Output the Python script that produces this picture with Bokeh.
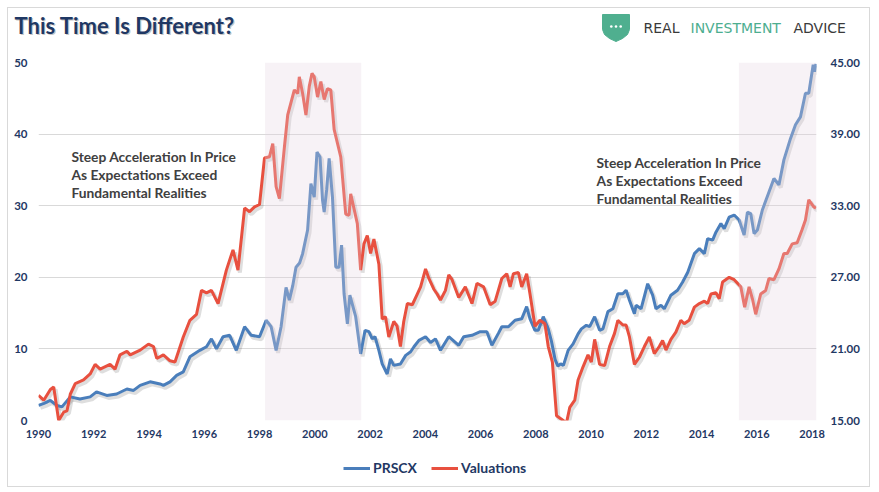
from bokeh.plotting import figure
from bokeh.layouts import column
from bokeh.models import (Range1d, LinearAxis, FixedTicker, Label, BoxAnnotation,
                          Legend, LegendItem, NumeralTickFormatter, ColumnDataSource)
from bokeh.core.properties import value
from bokeh.transform import dodge
from bokeh.embed import file_html
from bokeh.resources import INLINE

# ---------------- data ----------------
prscx_years = [1990.0, 1990.2, 1990.43, 1990.67, 1990.85, 1991.15, 1991.5, 1991.87, 1992.1, 1992.47,
               1992.83, 1993.2, 1993.44, 1993.68, 1994.04, 1994.4, 1994.52, 1994.76, 1995.0, 1995.24,
               1995.48, 1995.84, 1996.08, 1996.26, 1996.44, 1996.68, 1996.92, 1997.16, 1997.46, 1997.7,
               1998.0, 1998.24, 1998.42, 1998.6, 1998.78, 1998.96, 1999.08, 1999.2, 1999.32, 1999.45,
               1999.56, 1999.74, 1999.86, 1999.98, 2000.08, 2000.19, 2000.28, 2000.34, 2000.43, 2000.52,
               2000.64, 2000.76, 2000.88, 2000.97, 2001.06, 2001.18, 2001.27, 2001.48, 2001.66, 2001.82,
               2001.96, 2002.08, 2002.18, 2002.32, 2002.44, 2002.62, 2002.74, 2002.86, 2003.1, 2003.29,
               2003.47, 2003.59, 2003.77, 2004.01, 2004.19, 2004.37, 2004.55, 2004.85, 2005.21, 2005.39,
               2005.69, 2005.99, 2006.23, 2006.41, 2006.65, 2006.77, 2007.01, 2007.25, 2007.49, 2007.67,
               2007.79, 2007.97, 2008.09, 2008.27, 2008.45, 2008.57, 2008.7, 2008.8, 2008.9, 2009.0,
               2009.17, 2009.35, 2009.53, 2009.65, 2009.83, 2009.95, 2010.13, 2010.31, 2010.43, 2010.61,
               2010.79, 2010.97, 2011.15, 2011.27, 2011.39, 2011.57, 2011.63, 2011.81, 2012.05, 2012.23,
               2012.35, 2012.53, 2012.65, 2012.89, 2013.13, 2013.31, 2013.5, 2013.74, 2013.92, 2014.1,
               2014.22, 2014.4, 2014.52, 2014.7, 2014.82, 2015.0, 2015.18, 2015.36, 2015.54, 2015.66,
               2015.78, 2015.9, 2016.02, 2016.2, 2016.44, 2016.62, 2016.8, 2016.98, 2017.22, 2017.4,
               2017.58, 2017.76, 2017.88, 2018.04, 2018.09, 2018.14]
prscx = [2.1, 2.4, 2.8, 2.1, 1.9, 3.3, 3.0, 3.3, 4.0, 3.5,
         3.7, 4.4, 4.2, 4.9, 5.4, 5.1, 4.9, 5.4, 6.3, 6.8,
         8.9, 9.8, 10.3, 11.4, 10.0, 11.7, 11.9, 9.8, 13.1, 11.9,
         11.7, 14.0, 13.1, 9.8, 13.1, 18.6, 16.8, 18.8, 21.4, 22.0,
         23.3, 26.6, 33.1, 31.2, 37.5, 36.8, 30.8, 29.1, 32.2, 36.6,
         31.2, 21.4, 21.4, 24.5, 17.7, 13.5, 17.5, 14.5, 9.3, 12.6,
         12.4, 11.4, 11.7, 9.8, 7.9, 6.5, 8.6, 7.7, 7.9, 9.1,
         9.6, 10.3, 11.2, 11.7, 10.9, 11.4, 9.8, 11.7, 10.5, 11.7,
         11.9, 12.4, 12.4, 10.5, 12.2, 13.1, 13.1, 14.0, 14.2, 15.9,
         14.2, 12.6, 12.6, 14.5, 12.8, 11.0, 8.5, 7.6, 7.9, 7.7,
         9.8, 10.7, 12.1, 12.8, 13.3, 13.1, 14.5, 12.6, 12.8, 15.2,
         15.6, 17.7, 17.7, 18.2, 16.8, 14.9, 16.1, 15.6, 19.1, 17.5,
         15.6, 16.1, 15.6, 17.5, 18.2, 19.3, 20.7, 23.3, 24.0, 23.3,
         25.4, 25.2, 26.3, 27.5, 26.8, 28.4, 28.7, 28.0, 25.9, 29.1,
         28.9, 26.1, 26.6, 29.4, 31.9, 33.8, 32.9, 36.4, 39.4, 41.3,
         42.4, 45.7, 45.7, 49.7, 48.7, 49.8]

val_years = [1990.0, 1990.19, 1990.43, 1990.55, 1990.73, 1990.91, 1991.03, 1991.15, 1991.33, 1991.63,
             1991.87, 1992.05, 1992.23, 1992.59, 1992.77, 1992.95, 1993.2, 1993.32, 1993.68, 1993.98,
             1994.16, 1994.28, 1994.52, 1994.76, 1994.94, 1995.24, 1995.48, 1995.72, 1995.9, 1996.08,
             1996.26, 1996.5, 1996.8, 1997.04, 1997.22, 1997.46, 1997.64, 1997.82, 1998.0, 1998.18,
             1998.36, 1998.48, 1998.6, 1998.72, 1998.9, 1999.02, 1999.26, 1999.38, 1999.44, 1999.56,
             1999.68, 1999.8, 1999.9, 1999.98, 2000.1, 2000.22, 2000.34, 2000.46, 2000.58, 2000.7,
             2000.94, 2001.12, 2001.24, 2001.3, 2001.54, 2001.66, 2001.78, 2001.9, 2002.02, 2002.14,
             2002.32, 2002.44, 2002.56, 2002.68, 2002.86, 2002.98, 2003.1, 2003.22, 2003.35, 2003.53,
             2003.71, 2003.83, 2004.01, 2004.13, 2004.31, 2004.43, 2004.55, 2004.73, 2004.85, 2004.97,
             2005.21, 2005.45, 2005.69, 2005.87, 2006.11, 2006.35, 2006.53, 2006.77, 2006.95, 2007.07,
             2007.19, 2007.37, 2007.49, 2007.67, 2007.79, 2007.97, 2008.15, 2008.33, 2008.45, 2008.6,
             2008.75, 2008.93, 2009.11, 2009.23, 2009.41, 2009.53, 2009.71, 2009.89, 2010.01, 2010.13,
             2010.31, 2010.49, 2010.67, 2010.85, 2010.97, 2011.15, 2011.27, 2011.39, 2011.57, 2011.75,
             2011.93, 2012.11, 2012.29, 2012.47, 2012.59, 2012.71, 2012.89, 2013.07, 2013.25, 2013.37,
             2013.55, 2013.74, 2013.92, 2014.1, 2014.22, 2014.34, 2014.52, 2014.64, 2014.76, 2015.0,
             2015.18, 2015.42, 2015.56, 2015.72, 2015.84, 2015.96, 2016.14, 2016.32, 2016.44, 2016.62,
             2016.8, 2016.98, 2017.1, 2017.28, 2017.46, 2017.64, 2017.76, 2017.88, 2018.06, 2018.14]
valuations = [17.1, 16.7, 17.6, 17.8, 15.0, 15.7, 15.8, 17.2, 18.1, 18.4,
              18.9, 19.7, 19.3, 19.7, 19.3, 20.5, 20.8, 20.5, 20.9, 21.4,
              21.2, 20.2, 20.5, 20.0, 19.9, 22.0, 23.4, 23.9, 25.9, 25.7,
              25.9, 24.8, 27.6, 29.3, 27.6, 32.8, 32.5, 32.9, 33.1, 37.0,
              37.1, 38.2, 34.6, 33.6, 37.9, 40.6, 42.7, 42.4, 43.8, 42.4,
              40.6, 43.0, 44.1, 43.8, 42.1, 43.4, 41.9, 42.8, 42.7, 39.4,
              37.1, 32.3, 32.2, 34.0, 31.5, 27.6, 29.8, 30.5, 29.0, 30.2,
              28.1, 23.5, 23.7, 22.0, 23.3, 22.9, 21.2, 23.3, 24.8, 24.7,
              25.6, 26.2, 27.7, 26.9, 26.0, 25.6, 25.1, 25.9, 27.2, 26.8,
              25.3, 26.2, 24.8, 26.5, 26.2, 24.7, 25.0, 26.9, 27.3, 26.2,
              27.3, 27.4, 26.2, 27.3, 25.6, 22.9, 23.4, 23.1, 21.2, 19.9,
              15.4, 15.1, 14.8, 16.1, 16.7, 18.4, 19.5, 20.5, 19.9, 21.8,
              19.7, 19.6, 21.2, 22.3, 23.4, 23.0, 23.0, 22.0, 19.7, 20.3,
              21.2, 22.0, 20.6, 21.2, 21.7, 20.9, 21.8, 22.4, 23.4, 23.1,
              23.4, 24.5, 24.8, 25.0, 24.8, 25.6, 25.7, 25.2, 26.6, 27.0,
              26.8, 26.2, 24.5, 26.2, 25.2, 23.9, 25.6, 25.9, 26.9, 26.8,
              27.7, 29.0, 29.0, 29.8, 29.9, 31.0, 31.8, 33.5, 32.9, 32.8]

x_ticks = list(range(1990, 2019, 2))
left_ticks = [0, 10, 20, 30, 40, 50]
right_ticks = [15, 21, 27, 33, 39, 45]
shade_starts = [1998.2, 2015.35]
shade_ends = [2001.68, 2018.16]
note_lines = ["Steep Acceleration In Price", "As Expectations Exceed", "Fundamental Realities"]
series_names = ["PRSCX", "Valuations"]
title_text = "This Time Is Different?"
logo_words = ["REAL", "INVESTMENT", "ADVICE"]

# ---------------- styling ----------------
W = 861
NAVY = "#1F3864"
BLUE = "#4A7EBB"
RED = "#E8503F"
TEAL = "#4FAF8F"


def bare(fig):
    fig.xaxis.visible = False
    fig.yaxis.visible = False
    fig.grid.visible = False
    fig.outline_line_color = None
    fig.min_border = 0
    fig.frame_align = False
    return fig


src_b = ColumnDataSource(dict(x=prscx_years, y=prscx))
src_r = ColumnDataSource(dict(x=val_years, y=valuations))

# ---------------- header (title + logo) ----------------
hdr = bare(figure(width=W, height=46, output_backend="svg", toolbar_location=None,
                  x_range=Range1d(0, W), y_range=Range1d(46, 0)))
hdr.text(x=[7.2], y=[18.3], text=[title_text], text_font=value("Lato"), text_font_style="bold",
         text_font_size="22px", text_color="#808080", text_alpha=0.45, text_baseline="middle")
hdr.text(x=[6], y=[17], text=[title_text], text_font=value("Lato"), text_font_style="bold",
         text_font_size="22px", text_color=NAVY, text_baseline="middle")
hdr.patch(x=[594, 621, 621, 619, 614, 607.5, 601, 596, 594],
          y=[6, 6, 21, 26, 30, 33, 30, 26, 21], fill_color=TEAL, line_color=TEAL)
hdr.scatter(x=[602.8, 607.5, 612.2], y=[18, 18, 18], size=2.6, marker="circle",
            fill_color="white", line_color=None)
hdr.text(x=[635, 682, 785], y=[19, 19, 19], text=logo_words, text_font=value("DejaVu Sans"),
         text_font_size="14px", text_color=["#3a3a3a", "#4DAE90", "#3a3a3a"],
         text_baseline="middle")

# ---------------- main chart ----------------
p = figure(width=W, height=394, output_backend="svg", toolbar_location=None,
           x_range=Range1d(1990, 2018.16), y_range=Range1d(0, 50),
           min_border_left=30, min_border_right=53, min_border_top=8, min_border_bottom=28)
p.frame_align = False
p.outline_line_color = None
p.extra_y_ranges = {"val": Range1d(15, 45)}

p.xaxis.ticker = FixedTicker(ticks=x_ticks)
p.yaxis.ticker = FixedTicker(ticks=left_ticks)
p.xgrid.visible = False
p.ygrid.ticker = FixedTicker(ticks=left_ticks)
p.ygrid.grid_line_color = "#D9D9D9"
p.ygrid.grid_line_width = 1

raxis = LinearAxis(y_range_name="val", ticker=FixedTicker(ticks=right_ticks),
                   formatter=NumeralTickFormatter(format="0.00"))
p.add_layout(raxis, "right")

for ax in [p.xaxis[0], p.yaxis[0], raxis]:
    ax.axis_line_color = None
    ax.major_tick_line_color = None
    ax.minor_tick_line_color = None
    ax.major_tick_out = 0
    ax.major_tick_in = 0
    ax.minor_tick_out = 0
    ax.minor_tick_in = 0
    ax.major_label_text_font = "Lato"
    ax.major_label_text_font_style = "bold"
    ax.major_label_text_font_size = "11.5px"
    ax.major_label_text_color = NAVY
p.xaxis.major_label_text_font_size = "11px"
p.xaxis.major_label_standoff = 9
p.yaxis[0].major_label_standoff = 11
raxis.major_label_standoff = 14

# soft drop shadows
p.line(x=dodge("x", 0.07), y=dodge("y", -0.35), source=src_b, line_color="black",
       line_alpha=0.13, line_width=4)
p.line(x=dodge("x", 0.07), y=dodge("y", -0.21), source=src_r, line_color="black",
       line_alpha=0.13, line_width=4, y_range_name="val")

p.line("x", "y", source=src_b, line_color=BLUE, line_width=3)
p.line("x", "y", source=src_r, line_color=RED, line_width=3, y_range_name="val")

# shaded periods drawn on top (they lighten the lines inside)
for a, b in zip(shade_starts, shade_ends):
    p.add_layout(BoxAnnotation(left=a, right=b, fill_color="#E6D3E1", fill_alpha=0.3,
                               line_color=None))

for i, t in enumerate(note_lines):
    p.add_layout(Label(x=1991.19, y=36.87 - i * 2.51, text=t, text_font="Lato",
                       text_font_style="bold", text_font_size="13.8px", text_color="#404040",
                       text_baseline="middle"))
    p.add_layout(Label(x=2010.2, y=36.03 - i * 2.51, text=t, text_font="Lato",
                       text_font_style="bold", text_font_size="13.8px", text_color="#404040",
                       text_baseline="middle"))

# ---------------- footer (legend) ----------------
ftr = bare(figure(width=W, height=38, output_backend="svg", toolbar_location=None,
                  x_range=Range1d(0, W), y_range=Range1d(0, 38)))
# legend proxies: the same series, falling outside this strip's ranges
lb = ftr.line("x", "y", source=src_b, line_color=BLUE, line_width=3)
lr = ftr.line("x", "y", source=src_r, line_color=RED, line_width=3)
legend = Legend(items=[LegendItem(label=series_names[0], renderers=[lb]),
                       LegendItem(label=series_names[1], renderers=[lr])],
                orientation="horizontal", location=(335, 10),
                border_line_color=None, background_fill_alpha=0,
                label_text_font="Lato", label_text_font_style="bold",
                label_text_font_size="14px", label_text_color=NAVY,
                glyph_width=27, glyph_height=14, label_standoff=3, spacing=14,
                padding=4, margin=0)
ftr.add_layout(legend)

layout = column(hdr, p, ftr, spacing=0,
                styles={"margin": "8px 0 0 8px", "outline": "1px solid #D9D9D9"})

open("out.html", "w").write(file_html(layout, INLINE))
